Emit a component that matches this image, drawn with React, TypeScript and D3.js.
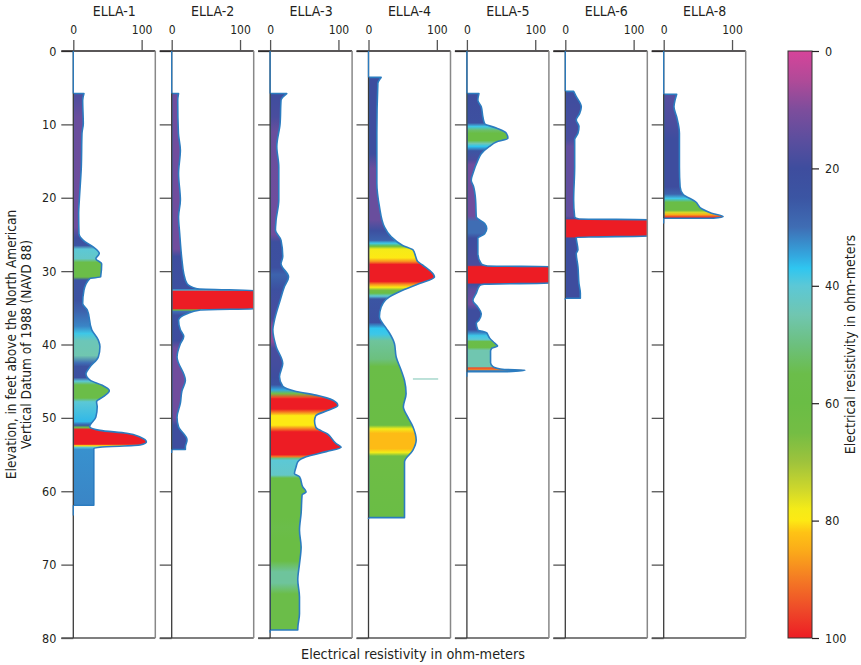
import React, { useEffect, useRef } from "react";
import * as d3 from "d3";

type Pt = [number, number];

const wells = ["ELLA-1", "ELLA-2", "ELLA-3", "ELLA-4", "ELLA-5", "ELLA-6", "ELLA-8"];
const elevationTicks = [0, 10, 20, 30, 40, 50, 60, 70, 80];
const resistivityTicks = [0, 100];
const colorbarTicks = [0, 20, 40, 60, 80, 100];

// colour ramp of the legend (ohm-meters -> colour)
const rampValues = [0, 5, 10, 15, 20, 25, 30, 35, 37, 40, 45, 50, 55, 60, 65, 70, 75, 78, 80, 82, 85, 90, 95, 100];
const rampColors = [
  "#d6449a", "#b04a98", "#7d4d9c", "#5c4e9e", "#3e4d9e", "#3b55a3", "#3f6db4", "#33a9e0",
  "#2fc6f0", "#5cc8d6", "#70c6b0", "#6cc07e", "#6bbd4a", "#6abd45", "#74bd44", "#9ec33c",
  "#d2d92a", "#f4eb18", "#fde914", "#fec315", "#fbac19", "#f47a24", "#ee4b29", "#ed1c24",
];

// resistivity logs: [elevation, ohm-meters]
const ella1Log: Pt[] = [[5.8, 15.6], [6.7, 13.7], [9.9, 14.6], [11.2, 12.7], [15.8, 11.7], [20.3, 8.8], [22.1, 7.8], [24.9, 8.3], [25.8, 14.6], [26.7, 29], [27.6, 38], [28.3, 33], [29, 41.5], [30.8, 40], [31, 24.4], [32.6, 15.6], [34.4, 13.7], [35.3, 20.5], [38, 27], [39.4, 36.6], [40.3, 39], [41.7, 36.6], [43.1, 24], [44, 18.5], [44.9, 25], [45.5, 41], [46.3, 52.7], [47.1, 44], [47.8, 34], [48.5, 35], [49.9, 33], [51.2, 24], [51.7, 39], [52.1, 78], [52.6, 97.6], [53.3, 107], [53.7, 97.6], [54, 39], [54.2, 30], [58.5, 30], [61.9, 30]];
const ella2Log: Pt[] = [[5.8, 10], [6.7, 8.8], [11.2, 9.8], [13.5, 12.7], [16.7, 10], [20.3, 12.7], [22.6, 10], [24.9, 11.7], [28.5, 15], [30.3, 17.6], [31.7, 22.4], [32.4, 37], [32.7, 130], [35.1, 130], [35.3, 42], [35.8, 22.4], [36.7, 10], [38, 12.7], [38.9, 17.6], [39.9, 12.7], [41.7, 7.8], [44.9, 20], [46.3, 15], [48, 12.7], [49.9, 7.8], [51.2, 10], [53, 22.4], [54, 20], [54.3, 20]];
const ella3Log: Pt[] = [[5.8, 24.4], [6.7, 16], [9.9, 14.6], [13, 9.8], [15.8, 12.7], [20.3, 12.7], [23, 8.8], [24.4, 7.8], [25.8, 16], [28, 18.5], [29, 16], [30.8, 27], [32.1, 21], [34, 14.6], [36.7, 6.3], [38, 4], [40.3, 8.8], [42.6, 18.5], [44.4, 13.7], [45.7, 18.5], [46.4, 38], [46.9, 67], [47.6, 92], [48.3, 99], [49, 84], [49.7, 67], [50.4, 65], [51.3, 67], [52.2, 84], [53.5, 96.6], [54, 104], [54.6, 82], [55.3, 52.7], [56, 40.5], [56.7, 38], [57.6, 35.6], [58, 43], [59.4, 47.8], [60.1, 52.7], [60.5, 46.8], [63, 45.4], [65.3, 43], [67.6, 45.4], [69.9, 43], [72.1, 40.5], [74.4, 43], [76.7, 43], [78.7, 40.5], [78.9, 40.5]];
const ella4Log: Pt[] = [[3.6, 18.5], [4.4, 13.7], [11.2, 12.2], [18, 12.2], [21.2, 16], [24, 23.4], [25.3, 33], [26.5, 50], [27.1, 65], [28, 69], [28.7, 72], [29.2, 79.5], [30.8, 96.6], [31.7, 74.6], [32.6, 50], [33.5, 30.7], [34.9, 18.5], [36.2, 16], [37.8, 26], [38.5, 31], [39.9, 38], [41.7, 40.5], [43.5, 47.8], [44.9, 52.7], [46.7, 55], [48.5, 51], [49.9, 57.6], [51.2, 65], [53, 69.8], [54.4, 65], [56, 52.7], [58.6, 52.7], [63.6, 52.7]];
const ella5Log: Pt[] = [[5.8, 17.6], [6.7, 16], [7.6, 21], [9, 23.4], [9.9, 26], [10.5, 43], [11.2, 57.6], [11.9, 60], [12.4, 43], [13, 33], [14, 21], [14.9, 16], [16.7, 8.8], [17.6, 6.3], [18.5, 9.8], [20.3, 12.7], [22.6, 13.7], [23.5, 26], [24.2, 29], [24.9, 26], [25.5, 16], [27.6, 16], [29, 21], [29.3, 30], [29.4, 130], [31.6, 130], [31.8, 25], [32, 18.5], [33, 13.7], [34, 8.8], [34.9, 16], [35.8, 21], [36.7, 17.6], [37.1, 13.7], [38, 16], [38.4, 29], [38.7, 30.7], [39.1, 33], [39.8, 40.5], [40.2, 45], [40.5, 36.6], [40.9, 34.6], [42.5, 34.6], [43, 38], [43.4, 55], [43.5, 85], [43.7, 60]];
const ella6Log: Pt[] = [[5.5, 12.2], [6.2, 16], [7.6, 23.4], [8.5, 21], [9.4, 16], [10.3, 20], [11.2, 18.5], [12.1, 13.7], [15.8, 13.7], [20.3, 12.2], [22.6, 13.7], [22.9, 20], [23, 130], [25.2, 130], [25.4, 16], [27.1, 18.5], [27.6, 16], [29.4, 18.5], [31.7, 20], [33, 22], [33.7, 22]];
const ella8Log: Pt[] = [[5.9, 19], [6.7, 16.6], [7.6, 15], [9, 19], [11.2, 23], [15.8, 23], [18.5, 24], [19.6, 28.8], [20.1, 38.5], [20.5, 45.9], [21.5, 55.6], [22.1, 70], [22.6, 87], [22.8, 72.7]];

// fill colour bands: [elevation, ohm-meters]
const ella1Bands: Pt[] = [[5.8, 17], [7, 16], [9, 13], [24, 12], [25.5, 20], [26.5, 24], [27, 40], [28.3, 42], [28.8, 56], [30.8, 57], [31.2, 24], [34, 23], [35.5, 28], [37.5, 32], [38.5, 38], [39.5, 44], [41.5, 45], [42.5, 30], [43, 23], [44.5, 22], [45, 40], [45.5, 57], [47.3, 57], [47.8, 40], [50.5, 36], [51, 25], [51.3, 55], [51.6, 100], [53.6, 100], [53.8, 80], [54, 40], [54.3, 33], [62, 32]];
const ella2Bands: Pt[] = [[5.8, 12], [27, 12], [28, 20], [32.4, 22], [32.6, 38], [32.7, 100], [35.1, 100], [35.3, 58], [35.5, 30], [36, 22], [39.5, 20], [40.5, 12], [50, 12], [51, 20], [54.3, 20]];
const ella3Bands: Pt[] = [[5.8, 20], [9, 18], [11, 13], [25, 12], [26, 21], [29.5, 22], [30.5, 28], [31.5, 26], [32.5, 22], [36.5, 18], [37.5, 8], [39.5, 8], [40.5, 18], [44.5, 20], [45.5, 24], [46.2, 35], [46.7, 65], [47.2, 95], [47.4, 100], [48.8, 100], [49.3, 88], [49.7, 80], [51, 80], [51.5, 90], [51.9, 100], [55, 100], [55.3, 90], [55.5, 50], [55.8, 40], [57.8, 42], [58.2, 60], [63.5, 60], [65, 55], [66.5, 60], [69.5, 60], [71, 47], [72.5, 47], [74, 56], [79, 56]];
const ella4Bands: Pt[] = [[3.6, 20], [14, 20], [16, 13], [23, 13], [24.5, 22], [25.8, 28], [26.2, 38], [26.6, 60], [27, 78], [28.2, 80], [28.7, 88], [29.1, 100], [31.4, 100], [31.8, 88], [32.2, 80], [32.6, 65], [33, 58], [33.4, 40], [33.8, 25], [37, 22], [37.8, 37], [38.6, 38], [39.5, 47], [42, 50], [43, 58], [51, 60], [51.5, 78], [52.1, 83], [54.2, 83], [54.7, 78], [55.2, 62], [63.6, 60]];
const ella5Bands: Pt[] = [[5.8, 20], [9.8, 22], [10.3, 38], [10.8, 52], [11.2, 60], [12.2, 60], [12.6, 45], [13, 37], [13.6, 25], [14.8, 18], [15.5, 12], [22.5, 12], [23.2, 30], [24.8, 30], [25.5, 20], [29.2, 18], [29.4, 100], [31.6, 100], [31.8, 22], [32.5, 15], [34.5, 12], [35.3, 20], [38, 20], [38.4, 32], [38.8, 38], [39.3, 40], [39.6, 57], [40.4, 58], [40.8, 45], [43, 45], [43.2, 95], [43.4, 90], [43.6, 32]];
const ella6Bands: Pt[] = [[5.5, 20], [12, 18], [13, 14], [22.5, 14], [22.9, 20], [23, 100], [25.3, 100], [25.5, 20], [33.7, 20]];
const ella8Bands: Pt[] = [[5.9, 16], [10, 18], [12, 20], [18.5, 20], [19.5, 28], [20.1, 38], [20.6, 58], [21.7, 60], [22, 75], [22.3, 85], [22.5, 92], [22.7, 100]];

// where the thin trace along the zero line stops
const traceBottoms = [63.3, 54.8, 79.3, 63.8, 44.4, 33.9, 23.5];
// stray trace segment in ELLA-4: [elevation, from, to]
const ella4Stray = [44.7, 65, 102];

const logs = [ella1Log, ella2Log, ella3Log, ella4Log, ella5Log, ella6Log, ella8Log];
const bands = [ella1Bands, ella2Bands, ella3Bands, ella4Bands, ella5Bands, ella6Bands, ella8Bands];

const FONT = '"DejaVu Sans Condensed", "Liberation Sans Narrow", "Arial Narrow", sans-serif';

const App: React.FC = () => {
  const ref = useRef<SVGSVGElement>(null);

  useEffect(() => {
    const width = 861;
    const height = 665;
    const panelW = 82;
    const svg = d3.select(ref.current);
    svg.selectAll("*").remove();
    svg.attr("width", width).attr("height", height).style("font-family", FONT);

    const y = d3.scaleLinear().domain([0, 80]).range([51, 638]);
    const panelX = d3.scalePoint<string>().domain(wells).range([73.3, 663.7]);
    const color = d3
      .scaleLinear<string>()
      .domain(rampValues)
      .range(rampColors)
      .interpolate(d3.interpolateRgb)
      .clamp(true);

    const defs = svg.append("defs");

    wells.forEach((name, i) => {
      const x0 = panelX(name)!;
      const x = d3.scaleLinear().domain([0, 120]).range([x0, x0 + panelW]);
      const g = svg.append("g");

      defs
        .append("clipPath")
        .attr("id", `clip-${i}`)
        .append("rect")
        .attr("x", x0)
        .attr("y", y(0))
        .attr("width", panelW)
        .attr("height", y(80) - y(0));

      const grad = defs
        .append("linearGradient")
        .attr("id", `fill-${i}`)
        .attr("gradientUnits", "userSpaceOnUse")
        .attr("x1", 0)
        .attr("x2", 0)
        .attr("y1", y(0))
        .attr("y2", y(80));
      grad
        .selectAll("stop")
        .data(bands[i])
        .join("stop")
        .attr("offset", (d) => d[0] / 80)
        .attr("stop-color", (d) => color(d[1]));

      const area = d3
        .area<Pt>()
        .curve(d3.curveMonotoneY)
        .y((d) => y(d[0]))
        .x0(x(0))
        .x1((d) => x(d[1]));

      g.append("path")
        .datum(logs[i])
        .attr("d", area)
        .attr("fill", `url(#fill-${i})`)
        .attr("stroke", "#2b7cc0")
        .attr("stroke-width", 1.6)
        .attr("stroke-linejoin", "round")
        .attr("clip-path", `url(#clip-${i})`);

      // left ticks
      const yAxis = g
        .append("g")
        .attr("transform", `translate(${x0},0)`)
        .call(
          d3
            .axisLeft(y)
            .tickValues(elevationTicks)
            .tickSize(12)
            .tickPadding(5)
            .tickFormat((d) => (i === 0 ? String(d) : ""))
        );
      yAxis.select(".domain").remove();
      yAxis.selectAll("line").attr("stroke", "#555").attr("stroke-width", 1.3);
      yAxis.selectAll("text").attr("font-size", 12.5).attr("font-family", FONT).attr("fill", "#231f20");

      // frame
      g.append("line")
        .attr("x1", x0 - 12)
        .attr("x2", x(120))
        .attr("y1", y(0))
        .attr("y2", y(0))
        .attr("stroke", "#231f20")
        .attr("stroke-width", 1.3);
      g.append("line")
        .attr("x1", x0 - 12)
        .attr("x2", x(120))
        .attr("y1", y(80))
        .attr("y2", y(80))
        .attr("stroke", "#555")
        .attr("stroke-width", 1.3);
      g.append("line")
        .attr("x1", x(120))
        .attr("x2", x(120))
        .attr("y1", y(0))
        .attr("y2", y(80))
        .attr("stroke", "#888")
        .attr("stroke-width", 1.5);
      g.append("line")
        .attr("x1", x0)
        .attr("x2", x0)
        .attr("y1", y(0))
        .attr("y2", y(80))
        .attr("stroke", "#3a3a3a")
        .attr("stroke-width", 1.3);

      // thin trace along zero line
      g.append("line")
        .attr("x1", x0)
        .attr("x2", x0)
        .attr("y1", y(0))
        .attr("y2", y(logs[i][0][0]))
        .attr("stroke", "#2b7cc0")
        .attr("stroke-width", 1.3);
      g.append("line")
        .attr("x1", x0)
        .attr("x2", x0)
        .attr("y1", y(logs[i][logs[i].length - 1][0]))
        .attr("y2", y(traceBottoms[i]))
        .attr("stroke", "#2b7cc0")
        .attr("stroke-width", 1.3);

      if (i === 3) {
        g.append("line")
          .attr("x1", x(ella4Stray[1]))
          .attr("x2", x(ella4Stray[2]))
          .attr("y1", y(ella4Stray[0]))
          .attr("y2", y(ella4Stray[0]))
          .attr("stroke", "#7cc4b4")
          .attr("stroke-width", 1);
      }

      // top axis
      const xAxis = g
        .append("g")
        .attr("transform", `translate(0,${y(0)})`)
        .call(d3.axisTop(x).tickValues(resistivityTicks).tickSize(11).tickPadding(6).tickFormat(d3.format("d")));
      xAxis.select(".domain").remove();
      xAxis.selectAll("line").attr("stroke", "#555").attr("stroke-width", 1.3);
      xAxis.selectAll("text").attr("font-size", 12).attr("font-family", FONT).attr("fill", "#231f20");

      g.append("text")
        .attr("x", x0 + panelW / 2)
        .attr("y", 16)
        .attr("text-anchor", "middle")
        .attr("font-size", 14)
        .attr("fill", "#231f20")
        .text(name);
    });

    // axis titles
    const yTitle = svg.append("g").attr("font-size", 13.6).attr("fill", "#231f20").attr("text-anchor", "middle");
    yTitle
      .append("text")
      .attr("transform", `translate(16,${y(40)}) rotate(-90)`)
      .text("Elevation, in feet above the North American");
    yTitle
      .append("text")
      .attr("transform", `translate(30.5,${y(40)}) rotate(-90)`)
      .text("Vertical Datum of 1988 (NAVD 88)");

    svg
      .append("text")
      .attr("x", 413)
      .attr("y", 659)
      .attr("text-anchor", "middle")
      .attr("font-size", 14.3)
      .attr("fill", "#231f20")
      .text("Electrical resistivity in ohm-meters");

    // colour bar
    const cb = d3.scaleLinear().domain([0, 100]).range([51, 638]);
    const cbGrad = defs
      .append("linearGradient")
      .attr("id", "colorbar")
      .attr("gradientUnits", "userSpaceOnUse")
      .attr("x1", 0)
      .attr("x2", 0)
      .attr("y1", cb(0))
      .attr("y2", cb(100));
    cbGrad
      .selectAll("stop")
      .data(rampValues)
      .join("stop")
      .attr("offset", (d) => d / 100)
      .attr("stop-color", (d) => color(d));

    svg
      .append("rect")
      .attr("x", 788)
      .attr("y", cb(0))
      .attr("width", 24)
      .attr("height", cb(100) - cb(0))
      .attr("fill", "url(#colorbar)")
      .attr("stroke", "#333")
      .attr("stroke-width", 1);

    const cbAxis = svg
      .append("g")
      .attr("transform", "translate(812,0)")
      .call(d3.axisRight(cb).tickValues(colorbarTicks).tickSize(7).tickPadding(6));
    cbAxis.select(".domain").remove();
    cbAxis.selectAll("line").attr("stroke", "#231f20").attr("stroke-width", 1.2);
    cbAxis.selectAll("text").attr("font-size", 12.5).attr("font-family", FONT).attr("fill", "#231f20");

    svg
      .append("text")
      .attr("transform", `translate(855,${cb(50)}) rotate(-90)`)
      .attr("text-anchor", "middle")
      .attr("font-size", 14)
      .attr("fill", "#231f20")
      .text("Electrical resistivity in ohm-meters");
  }, []);

  return (
    <div style={{ position: "absolute", left: 0, top: 0, width: 861, height: 665, background: "#fff" }}>
      <svg ref={ref} style={{ display: "block" }}></svg>
    </div>
  );
};

export default App;
